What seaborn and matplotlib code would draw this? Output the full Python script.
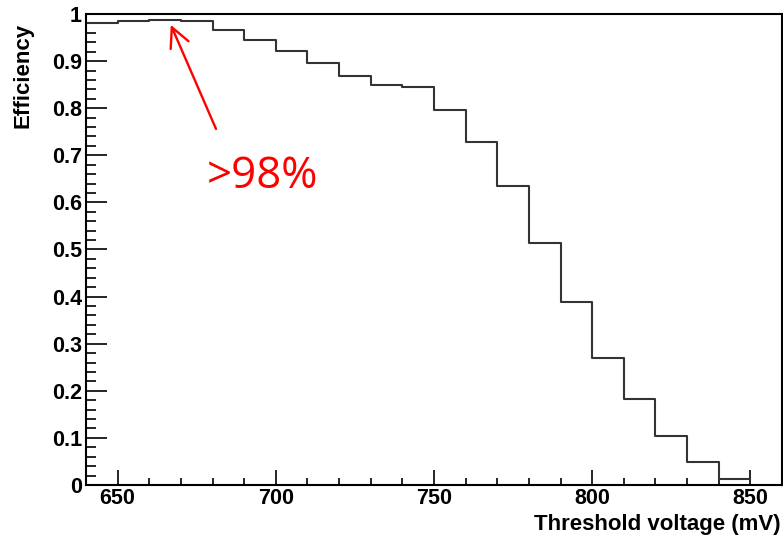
import numpy as np
import pandas as pd
import matplotlib
matplotlib.use("Agg")
import matplotlib.pyplot as plt
import seaborn as sns
from matplotlib.ticker import MultipleLocator, FuncFormatter

# ---- data ----
bin_left = [640, 650, 660, 670, 680, 690, 700, 710, 720, 730, 740,
            750, 760, 770, 780, 790, 800, 810, 820, 830, 840]
bin_width = 10
efficiency = [0.980, 0.985, 0.987, 0.985, 0.966, 0.945, 0.921, 0.895,
              0.868, 0.849, 0.844, 0.797, 0.728, 0.635, 0.513, 0.389,
              0.270, 0.182, 0.105, 0.049, 0.012]
x_label = "Threshold voltage (mV)"
y_label = "Efficiency"
note_text = ">98%"

sns.set_style("ticks")
plt.rcParams['font.family'] = ['Liberation Sans', 'DejaVu Sans']
plt.rcParams['text.color'] = 'black'
plt.rcParams['axes.labelcolor'] = 'black'
plt.rcParams['xtick.color'] = 'black'
plt.rcParams['ytick.color'] = 'black'

W, H = 783, 535
fig = plt.figure(figsize=(W / 100, H / 100), dpi=100)
ax = fig.add_axes([86 / W, 1 - 485 / H, 696 / W, 471 / H])

df = pd.DataFrame({"threshold": np.array(bin_left) + bin_width / 2,
                   "efficiency": efficiency})
edges = list(bin_left) + [bin_left[-1] + bin_width]
sns.histplot(data=df, x="threshold", weights="efficiency", bins=edges,
             element="step", fill=False, color="#333333", linewidth=1.5,
             ax=ax, legend=False)

ax.set_xlim(640, 860)
ax.set_ylim(0, 1)
ax.xaxis.set_major_locator(MultipleLocator(50))
ax.xaxis.set_minor_locator(MultipleLocator(10))
ax.yaxis.set_major_locator(MultipleLocator(0.1))
ax.yaxis.set_minor_locator(MultipleLocator(0.02))
ax.yaxis.set_major_formatter(FuncFormatter(lambda v, p: f"{round(v, 2):g}"))

ax.tick_params(axis='both', which='both', direction='in', top=False,
               right=False, color='black', labelcolor='black', width=1.2)
ax.tick_params(axis='y', which='major', length=15, pad=3)
ax.tick_params(axis='y', which='minor', length=7.2)
ax.tick_params(axis='x', which='major', length=10.8, pad=2)
ax.tick_params(axis='x', which='minor', length=5.4)
for lab in ax.get_xticklabels() + ax.get_yticklabels():
    lab.set_fontsize(15.5)
    lab.set_fontweight('bold')

for s in ax.spines.values():
    s.set_visible(True)
    s.set_color('black')
    s.set_linewidth(1.5)

ax.set_xlabel(x_label, fontsize=16, fontweight='bold', loc='right',
              color='black')
ax.xaxis.set_label_coords(0.998, -0.062)
ax.set_ylabel(y_label, fontsize=16, fontweight='bold', loc='top',
              color='black')
ax.yaxis.set_label_coords(-0.075, 0.981)

ax.annotate("", xy=(666.8, 0.977), xytext=(681.1, 0.756),
            arrowprops=dict(arrowstyle="->,head_length=0.7,head_width=0.35",
                            color="red", lw=1.7, mutation_scale=20,
                            shrinkA=0, shrinkB=0))
ax.text(678.2, 0.631, note_text, color="red", fontsize=31.5,
        family=['Open Sans', 'DejaVu Sans'], ha='left', va='baseline')

fig.savefig("out.png", dpi=100)
